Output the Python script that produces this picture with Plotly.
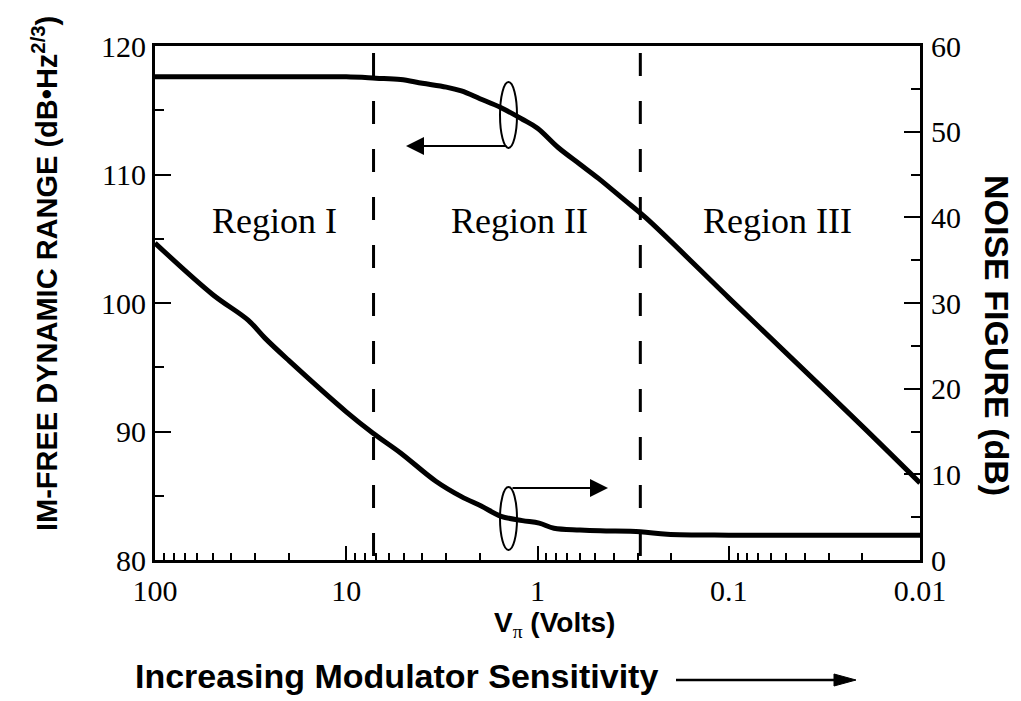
import math
import plotly.graph_objects as go

# ---- data ----
v_imfdr = [100, 50, 20, 10, 7, 5.2, 4.0, 3.0, 2.5, 2.0, 1.55, 1.2, 1.0, 0.78, 0.6,
           0.48, 0.35, 0.27, 0.1, 0.05, 0.02, 0.01]
imfdr = [117.6, 117.6, 117.6, 117.6, 117.5, 117.4, 117.1, 116.8, 116.5, 115.9, 115.2,
         114.3, 113.6, 112.1, 110.8, 109.7, 108.0, 106.6, 100.4, 96.1, 90.4, 86.0]

v_nf = [100, 50, 32.6, 26.6, 20, 10, 7.24, 5.2, 3.4, 2.5, 1.97, 1.55, 1.2, 0.98, 0.82,
        0.6, 0.47, 0.29, 0.21, 0.1, 0.05, 0.01]
nf = [37.0, 31.0, 28.0, 25.9, 23.3, 17.3, 14.8, 12.5, 9.2, 7.4, 6.3, 5.1, 4.6, 4.3, 3.7,
      3.5, 3.4, 3.3, 3.0, 2.9, 2.9, 2.9]

region_bounds = [7.2, 0.29]
region_labels = ["Region I", "Region II", "Region III"]
region_label_x = [23.6, 1.235, 0.0553]
region_label_y = 106.4

x_tickvals = [100, 10, 1, 0.1, 0.01]
x_ticktext = ["100", "10", "1", "0.1", "0.01"]
left_range = [80, 120]
right_range = [0, 60]
left_ticks = [80, 90, 100, 110, 120]
right_ticks = [0, 10, 20, 30, 40, 50, 60]

W, H = 1021, 701
L, R, T, B = 147, 912, 38, 552


def px(x):
    return (x - L) / (R - L)


def py(y):
    return (B - y) / (B - T)


SERIF = "Liberation Serif, Times New Roman, serif"
SANS = "Liberation Sans, Arial, sans-serif"

fig = go.Figure()
fig.add_trace(go.Scatter(x=v_imfdr, y=imfdr, mode="lines", line=dict(color="black", width=5),
                         line_shape="spline", showlegend=False))
fig.add_trace(go.Scatter(x=v_nf, y=nf, mode="lines", line=dict(color="black", width=5),
                         line_shape="spline", yaxis="y2", showlegend=False))
# dashed region boundaries (start a little above the frame so the dash phase matches)
dash_top = left_range[1] + 3.2
for xb in region_bounds:
    fig.add_trace(go.Scatter(x=[xb, xb], y=[dash_top, left_range[0]], mode="lines",
                             line=dict(color="black", width=3, dash="23px,25px"),
                             showlegend=False))

axis_common = dict(showline=True, linecolor="black", linewidth=3, ticks="inside",
                   tickcolor="black", tickwidth=2, showgrid=False, zeroline=False,
                   tickfont=dict(family=SERIF, size=30, color="black"))

fig.update_layout(
    width=W, height=H,
    margin=dict(l=L, r=W - R, t=T, b=H - B),
    paper_bgcolor="white", plot_bgcolor="white",
    xaxis=dict(type="log", range=[2, -2], tickvals=x_tickvals, ticktext=x_ticktext,
               ticklen=14, mirror=True, ticklabelstandoff=2,
               minor=dict(ticks="inside", ticklen=7, tickwidth=2, tickcolor="black",
                          dtick="D1", showgrid=False),
               **axis_common),
    yaxis=dict(range=left_range, tickvals=left_ticks, ticklen=16,
               minor=dict(ticks="inside", ticklen=9, tickwidth=2, tickcolor="black",
                          dtick=5, showgrid=False),
               **axis_common),
    yaxis2=dict(range=right_range, tickvals=right_ticks, ticklen=16, overlaying="y",
                side="right", ticklabelstandoff=2,
                minor=dict(ticks="inside", ticklen=9, tickwidth=2, tickcolor="black",
                           dtick=5, showgrid=False),
                **axis_common),
)

ann = []
for lab, xl in zip(region_labels, region_label_x):
    ann.append(dict(x=math.log10(xl), y=region_label_y, xref="x", yref="y", text=lab,
                    xanchor="center", yanchor="middle", showarrow=False,
                    font=dict(family=SERIF, size=36, color="black")))

# axis titles
ann.append(dict(x=px(37), y=py(266), xref="paper", yref="paper", textangle=-90,
                xanchor="center", yanchor="middle",
                text="<b>IM-FREE DYNAMIC RANGE (dB•Hz<sup>2/3</sup>)</b>", showarrow=False,
                font=dict(family=SANS, size=29, color="black")))
ann.append(dict(x=px(989), y=py(327), xref="paper", yref="paper", textangle=90,
                xanchor="center", yanchor="middle",
                text="<b>NOISE FIGURE (dB)</b>", showarrow=False,
                font=dict(family=SANS, size=34, color="black")))
ann.append(dict(x=px(546), y=py(616), xref="paper", yref="paper",
                xanchor="center", yanchor="middle",
                text="<b>V</b><sub><span style='font-family:Liberation Serif'>π</span></sub><b> (Volts)</b>",
                showarrow=False, font=dict(family=SANS, size=28, color="black")))
ann.append(dict(x=px(125), y=py(668), xref="paper", yref="paper", xanchor="left",
                yanchor="middle",
                text="<b>Increasing Modulator Sensitivity</b>",
                showarrow=False, font=dict(family=SANS, size=34, color="black")))

# curve markers (arrows from ellipses)
ann.append(dict(x=px(398), y=py(138), xref="paper", yref="paper", ax=102, ay=0,
                text="", showarrow=True, arrowhead=2, arrowsize=1.8, arrowwidth=2,
                arrowcolor="black"))
ann.append(dict(x=px(600), y=py(480), xref="paper", yref="paper", ax=-97, ay=0,
                text="", showarrow=True, arrowhead=2, arrowsize=1.8, arrowwidth=2,
                arrowcolor="black"))
fig.update_layout(annotations=ann)

# bottom arrow as shapes
ya = py(672)
shapes = [
    dict(type="circle", xref="paper", yref="paper", x0=px(492), x1=px(509),
         y0=py(74), y1=py(140), line=dict(color="black", width=2)),
    dict(type="circle", xref="paper", yref="paper", x0=px(492), x1=px(509),
         y0=py(479), y1=py(542), line=dict(color="black", width=2)),
    dict(type="line", xref="paper", yref="paper", x0=px(668), x1=px(830), y0=ya, y1=ya,
         line=dict(color="black", width=2.5)),
    dict(type="path", xref="paper", yref="paper",
         path=f"M {px(848)},{ya} L {px(826)},{py(666)} L {px(826)},{py(678)} Z",
         fillcolor="black", line=dict(color="black", width=1)),
]
fig.update_layout(shapes=shapes)

fig.write_html("out.html")
